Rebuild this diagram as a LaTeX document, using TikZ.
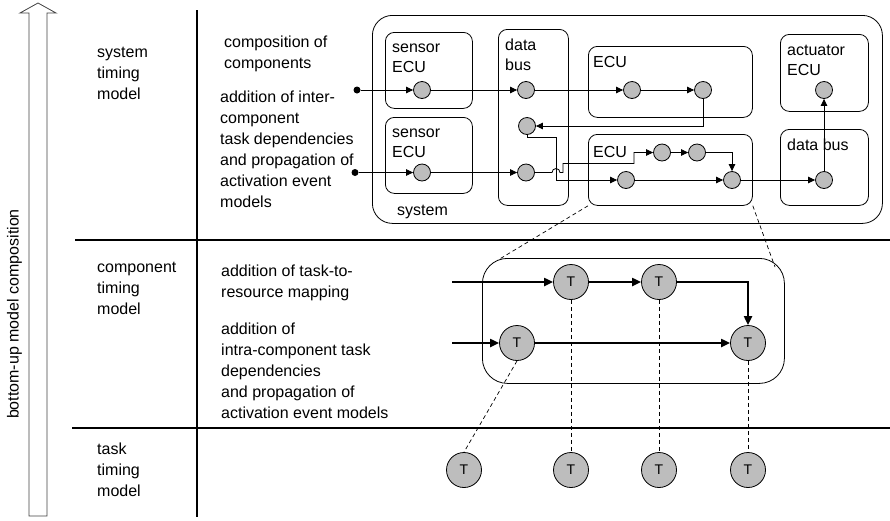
\documentclass[tikz,border=0pt]{standalone}
\usepackage{fontspec}
\setmainfont{Liberation Sans}
\usetikzlibrary{arrows.meta}
\begin{document}
\begin{tikzpicture}[x=1pt,y=-1pt,font=\fontsize{16}{21}\selectfont,
  lbl/.style={anchor=base west, inner sep=0pt, align=left},
  blbl/.style={anchor=base west, inner sep=0pt, align=left, font=\fontsize{16}{20.5}\selectfont},
  sbox/.style={draw, rounded corners=9pt, line width=0.8pt, anchor=north west, inner sep=0pt},
  tdot/.style={circle, draw, fill=black!26, minimum size=17pt, inner sep=0pt, line width=0.8pt},
  tnode/.style={circle, draw, fill=black!26, minimum size=35pt, inner sep=0pt, line width=0.8pt, font=\fontsize{14}{14}\selectfont},
  indot/.style={circle, fill=black, minimum size=7pt, inner sep=0pt},
  tarr/.style={-{Triangle[length=7pt,width=6.5pt]}, line width=0.8pt},
  karr/.style={-{Triangle[length=9pt,width=8pt]}, line width=2pt},
  ddash/.style={line width=0.7pt, dash pattern=on 4pt off 3pt},
  rule/.style={line width=2pt}]
\useasboundingbox (0,0) rectangle (890,520);

% axis arrow
\draw[line width=0.8pt, draw=black!75] (29,516) -- (29,13) -- (20,13) -- (38,3) -- (56,13) -- (47,13) -- (47,516) -- cycle;
\node[rotate=90, inner sep=0pt] (axislbl) at (14.5,314) {bottom-up model composition};

% grid lines
\draw[rule] (197,10) -- (197,517);
\draw[rule] (75,240) -- (890,240);
\draw[rule] (72,428) -- (890,428);

% left texts (anchor = baseline of last line)
\node[lbl] (t1) at (97,99) {system\\timing\\model};
\node[lbl] (t2) at (224,68.5) {composition of\\components};
\node[lbl] (t3) at (220,207.5) {addition of inter-\\component\\task dependencies\\and propagation of\\activation event\\models};
\node[lbl] (t4) at (97,314.5) {component\\timing\\model};
\node[lbl] (t5) at (221,297.5) {addition of task-to-\\resource mapping};
\node[lbl] (t6) at (221,418.5) {addition of\\intra-component task\\dependencies\\and propagation of\\activation event models};
\node[lbl] (t7) at (97,496.5) {task\\timing\\model};

% system boxes
\node[sbox, rounded corners=20pt, minimum width=510pt, minimum height=208pt] (sys) at (372,15) {};
\node[sbox, minimum width=87pt, minimum height=76pt] (sens1) at (385,32) {};
\node[sbox, minimum width=87pt, minimum height=76pt] (sens2) at (385,117) {};
\node[sbox, minimum width=70pt, minimum height=176pt] (bus) at (498,29) {};
\node[sbox, minimum width=164pt, minimum height=71pt] (ecut) at (588,46) {};
\node[sbox, minimum width=164pt, minimum height=71pt] (ecub) at (588,134) {};
\node[sbox, minimum width=88pt, minimum height=77pt] (act) at (780,34) {};
\node[sbox, minimum width=88pt, minimum height=76pt] (busr) at (780,129) {};

\node[blbl] (l1) at (392,72.5) {sensor\\ECU};
\node[blbl] (l2) at (392,157.5) {sensor\\ECU};
\node[blbl] (l3) at (505,70.5) {data\\bus};
\node[blbl] (l4) at (593,67) {ECU};
\node[blbl] (l5) at (787,75.5) {actuator\\ECU};
\node[blbl] (l6) at (593,157) {ECU};
\node[blbl] (l7) at (787,150) {data bus};
\node[blbl] (l8) at (397,215) {system};

% task dots
\node[indot] (in1) at (357,90) {};
\node[indot] (in2) at (355,172.5) {};
\node[tdot] (s1) at (422,90) {};
\node[tdot] (d1) at (526,90) {};
\node[tdot] (e1) at (632,90) {};
\node[tdot] (e2) at (703,90) {};
\node[tdot] (d2) at (527,126) {};
\node[tdot] (s2) at (422,172.5) {};
\node[tdot] (d3) at (526,172.5) {};
\node[tdot] (b1) at (626,180) {};
\node[tdot] (b2) at (662,152.5) {};
\node[tdot] (b3) at (697,152.5) {};
\node[tdot] (b4) at (732,180) {};
\node[tdot] (r1) at (824,180) {};
\node[tdot] (a1) at (824,90) {};

\draw[tarr] (in1) -- (s1);
\draw[tarr] (s1) -- (d1);
\draw[tarr] (d1) -- (e1);
\draw[tarr] (e1) -- (e2);
\draw[tarr] (e2.south) |- (d2.east);
\draw[tarr] (in2) -- (s2);
\draw[tarr] (s2) -- (d3);
\draw[tarr] (d2.south) |- (556,137) -- (556,180) -- (b1.west);
\draw[tarr] (d3.east) -- (552,172.5) arc[start angle=180, end angle=360, radius=4] -- (563,172.5) -- (563,163.5) -- (634,163.5) -- (634,152.5) -- (b2.west);
\draw[tarr] (b2) -- (b3);
\draw[tarr] (b3.east) -| (b4.north);
\draw[tarr] (b1) -- (b4);
\draw[tarr] (b4) -- (r1);
\draw[tarr] (r1) -- (a1);

% component level
\node[sbox, rounded corners=25pt, minimum width=302pt, minimum height=125pt] (comp) at (482,258) {};
\coordinate (cTL) at (498,260);
\coordinate (cTR) at (775,267);
\draw[ddash] (ecub.south west) -- (cTL);
\draw[ddash] (ecub.south east) -- (cTR);

\node[tnode] (Ta) at (571,282) {T};
\node[tnode] (Tb) at (659,282) {T};
\node[tnode] (Tc) at (517,343) {T};
\node[tnode] (Td) at (748,343) {T};
\coordinate (inA) at (452,282);
\coordinate (inB) at (452,343);
\draw[karr] (inA) -- (Ta);
\draw[karr] (Ta) -- (Tb);
\draw[karr] (Tb.east) -| (Td.north);
\draw[karr] (inB) -- (Tc);
\draw[karr] (Tc) -- (Td);

% task level
\node[tnode] (U1) at (464,470) {T};
\node[tnode] (U2) at (571,470) {T};
\node[tnode] (U3) at (659,470) {T};
\node[tnode] (U4) at (748,470) {T};
\draw[ddash] (Tc.south) -- (U1.north);
\draw[ddash] (Ta.south) -- (U2.north);
\draw[ddash] (Tb.south) -- (U3.north);
\draw[ddash] (Td.south) -- (U4.north);
\end{tikzpicture}
\end{document}
